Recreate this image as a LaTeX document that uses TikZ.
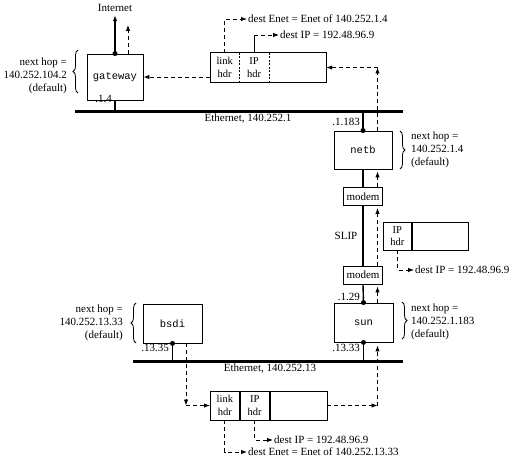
\documentclass[tikz,border=0pt]{standalone}
\usepackage{fontspec}
\setmainfont{Liberation Serif}
\setmonofont{Liberation Mono}
\usetikzlibrary{arrows.meta,decorations.pathreplacing,calc}
\begin{document}
\begin{tikzpicture}[x=1pt,y=-1pt,
  every node/.style={font=\fontsize{11}{13}\selectfont},
  host/.style={draw, line width=0.9pt, inner sep=0pt, font=\ttfamily\fontsize{10.5}{12}\selectfont},
  modembox/.style={draw, line width=0.9pt, inner sep=0pt, minimum width=39pt, minimum height=18pt},
  cell/.style={inner sep=0pt, minimum height=29pt, align=center, anchor=west, font=\fontsize{10.5}{12.5}\selectfont},
  dcell/.style={cell, draw, line width=0.8pt},
  eth/.style={line width=3pt},
  wire/.style={line width=1.4pt},
  flow/.style={dash pattern=on 4pt off 3pt, line width=0.9pt, -{Latex[length=6pt,width=4.5pt]}},
  lbl/.style={inner sep=1pt},
  brc/.style={decorate, decoration={brace, amplitude=5pt}, line width=0.8pt},
]
\useasboundingbox (0,0) rectangle (520,465);

% hosts
\node[host, minimum width=56pt, minimum height=46pt] (gateway) at (115,77) {gateway};
\node[host, minimum width=58pt, minimum height=38pt] (netb) at (363,150) {netb};
\node[modembox] (modemA) at (363,196.5) {modem};
\node[modembox] (modemB) at (363,275) {modem};
\node[host, minimum width=59pt, minimum height=39pt] (sun) at (363.5,322.5) {sun};
\node[host, minimum width=59pt, minimum height=39pt] (bsdi) at (172.5,323.5) {bsdi};
\node (inet) at (115,8) {Internet};

% ethernets
\coordinate (e1L) at (75,112);
\coordinate (e1R) at (403,112);
\coordinate (e2L) at (133,362);
\coordinate (e2R) at (403,362);
\draw[eth] (e1L) -- (e1R);
\draw[eth] (e2L) -- (e2R);
\node[lbl] (e1lab) at (248,119) {Ethernet, 140.252.1};
\node[lbl] (e2lab) at (270,369) {Ethernet, 140.252.13};

% wires
\draw[wire, -{Latex[length=6pt,width=4.5pt]}] (gateway.north) -- (inet.south);
\draw[wire] (gateway.south) -- (gateway.south |- e1L);
\draw[wire] (netb.north |- e1L) -- (netb.north);
\draw[wire] (netb.south) -- (modemA.north);
\draw[wire] (modemA.south) -- (modemB.north);
\draw[wire] (modemB.south) -- (sun.north);
\draw[wire] (sun.south) -- (sun.south |- e2L);
\draw[wire] (bsdi.south) -- (bsdi.south |- e2L);
\fill (gateway.north) circle (2.5pt);
\fill (netb.north) circle (2.5pt);
\fill (sun.north) circle (2.5pt);
\fill (sun.south) circle (2.5pt);
\fill (bsdi.south) circle (2.5pt);

% interface labels
\node[lbl, anchor=east] (l14) at (113,99) {.1.4};
\node[lbl, anchor=east] (l1183) at (361,122) {.1.183};
\node[lbl, anchor=east] (l129) at (361,297) {.1.29};
\node[lbl, anchor=east] (l1333) at (361,348) {.13.33};
\node[lbl, anchor=east] (l1335) at (170,348) {.13.35};
\node[lbl] (slip) at (346,236) {SLIP};

% next hop braces
\draw[brc] (78,93) -- (78,50);
\node[lbl, anchor=east, align=right] (nhG) at (68,76) {next hop =\\140.252.104.2\\(default)};
\draw[brc] (400,131) -- (400,169);
\node[lbl, anchor=west, align=left] (nhN) at (410,150) {next hop =\\140.252.1.4\\(default)};
\draw[brc] (402,302) -- (402,339);
\node[lbl, anchor=west, align=left] (nhS) at (410,322) {next hop =\\140.252.1.183\\(default)};
\draw[brc] (136,343) -- (136,303);
\node[lbl, anchor=east, align=right] (nhB) at (124,323) {next hop =\\140.252.13.33\\(default)};

% top packet
\node[cell, minimum width=29pt] (p1link) at (210,67.5) {link\\hdr};
\node[cell, minimum width=29pt] (p1ip) at (p1link.east) {IP\\hdr};
\node[cell, minimum width=57pt] (p1data) at (p1ip.east) {};
\draw[line width=0.8pt] (p1link.north west) rectangle (p1data.south east);
\draw[line width=0.6pt, dash pattern=on 2pt off 1.5pt] (p1link.north east) -- (p1link.south east);
\draw[line width=0.6pt, dash pattern=on 2pt off 1.5pt] (p1ip.north east) -- (p1ip.south east);

% middle packet
\node[dcell, minimum width=28pt, minimum height=28pt] (p2ip) at (383,236) {IP\\hdr};
\node[dcell, minimum width=56pt, minimum height=28pt] (p2data) at (p2ip.east) {};

% bottom packet
\node[dcell, minimum width=29pt] (p3link) at (210,405.5) {link\\hdr};
\node[dcell, minimum width=29pt] (p3ip) at (p3link.east) {IP\\hdr};
\node[dcell, minimum width=57pt] (p3data) at (p3ip.east) {};

% annotations
\node[lbl, anchor=west] (a1) at (247,19) {dest Enet = Enet of 140.252.1.4};
\draw[flow] (p1link.north) |- (a1.west);
\node[lbl, anchor=west] (a2) at (279,35) {dest IP = 192.48.96.9};
\draw[line width=0.8pt] (p1ip.north) -- (p1ip.north |- a2.west);
\draw[flow] (p1ip.north |- a2.west) -- (a2.west);
\node[lbl, anchor=west] (a3) at (414,270) {dest IP = 192.48.96.9};
\draw[flow] (p2ip.south) |- (a3.west);
\node[lbl, anchor=west] (a4) at (273,440) {dest IP = 192.48.96.9};
\draw[flow] (p3ip.south) |- (a4.west);
\node[lbl, anchor=west] (a5) at (247,452) {dest Enet = Enet of 140.252.13.33};
\draw[flow] (p3link.south) |- (a5.west);

% packet flow
\coordinate (c1) at (186,405.5);
\coordinate (c2) at (377.5,405.5);
\coordinate (c3) at (377.5,67.5);
\coordinate (gwout) at (128,25);
\draw[flow] ($(bsdi.south)+(13.5,0)$) -- (c1);
\draw[flow] (c1) -- (p3link.west);
\draw[flow] (p3data.east) -- (c2);
\draw[flow, shorten >=3pt] (c2) -- (c2 |- sun.south);
\draw[flow, shorten >=2pt] (c2 |- sun.north) -- (c2 |- modemB.south);
\draw[flow, shorten >=2pt] (c2 |- modemB.north) -- (c2 |- modemA.south);
\draw[flow, shorten >=2pt] (c2 |- modemA.north) -- (c2 |- netb.south);
\draw[flow] (c2 |- netb.north) -- (c3);
\draw[flow] (c3) -- (p1data.east);
\draw[flow] (p1link.west |- gateway.east) -- (gateway.east);
\draw[flow] ($(gateway.north)+(13,0)$) -- (gwout);
\end{tikzpicture}
\end{document}
